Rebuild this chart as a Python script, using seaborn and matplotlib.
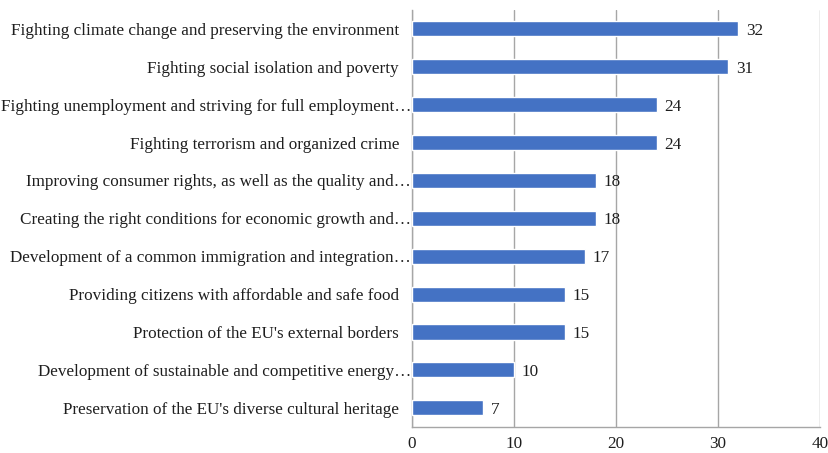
import matplotlib
matplotlib.use("Agg")
import matplotlib.pyplot as plt
import matplotlib.transforms as mtransforms
import seaborn as sns
import pandas as pd

categories = [
    "Fighting climate change and preserving the environment",
    "Fighting social isolation and poverty",
    "Fighting unemployment and striving for full employment\u2026",
    "Fighting terrorism and organized crime",
    "Improving consumer rights, as well as the quality and\u2026",
    "Creating the right conditions for economic growth and\u2026",
    "Development of a common immigration and integration\u2026",
    "Providing citizens with affordable and safe food",
    "Protection of the EU's external borders",
    "Development of sustainable and competitive energy\u2026",
    "Preservation of the EU's diverse cultural heritage",
]
values = [32, 31, 24, 24, 18, 18, 17, 15, 15, 10, 7]
x_ticks = [0, 10, 20, 30, 40]

df = pd.DataFrame({"category": categories, "value": values})

sns.set_theme(style="white")
plt.rcParams["font.family"] = ["Liberation Serif", "DejaVu Serif"]

FS = 12.3
TEXT = "#1e1e1e"
GRID = "#a6a6a6"

fig = plt.figure(figsize=(8.29, 4.53), dpi=100)
ax = fig.add_axes([0.497, 0.058, 0.492, 0.920])

sns.barplot(data=df, x="value", y="category", color="#4472C4", width=0.4,
            saturation=1, ax=ax, zorder=3)

for patch, v in zip(ax.patches, values):
    y = patch.get_y() + patch.get_height() / 2
    ax.text(v + 0.75, y, f"{v}", va="center_baseline", ha="left",
            fontsize=FS, color=TEXT, zorder=4)

ax.set_xlim(0, 40)
ax.set_xticks(x_ticks)
ax.set_xticklabels([str(t) for t in x_ticks], fontsize=FS, color=TEXT)
ax.set_ylim(len(categories) - 0.5, -0.5)
ax.set_xlabel("")
ax.set_ylabel("")

ax.xaxis.grid(True, color=GRID, linewidth=1.0, zorder=0)
ax.yaxis.grid(False)

# category labels: shortened names run right up to the axis,
# full names keep a wider gap
ax.set_yticks(range(len(categories)))
ax.set_yticklabels([])
ax.tick_params(axis="y", length=0)
label_tf = ax.get_yaxis_transform()
for i, name in enumerate(categories):
    gap = 1 if name.endswith("\u2026") else 13
    off = mtransforms.offset_copy(label_tf, fig=fig, x=-gap, y=0, units="dots")
    ax.text(0, i, name, transform=off, ha="right", va="center_baseline",
            fontsize=FS, color=TEXT, clip_on=False)

ax.set_yticks([i - 0.5 for i in range(len(categories) + 1)], minor=True)
ax.tick_params(axis="y", which="minor", length=5, color=GRID, width=1)
ax.tick_params(axis="x", length=4, color=GRID, width=1, pad=3)

for side in ["top", "right"]:
    ax.spines[side].set_visible(False)
for side in ["left", "bottom"]:
    ax.spines[side].set_color(GRID)
    ax.spines[side].set_linewidth(1.0)

fig.savefig("out.png", dpi=100, facecolor="white")
